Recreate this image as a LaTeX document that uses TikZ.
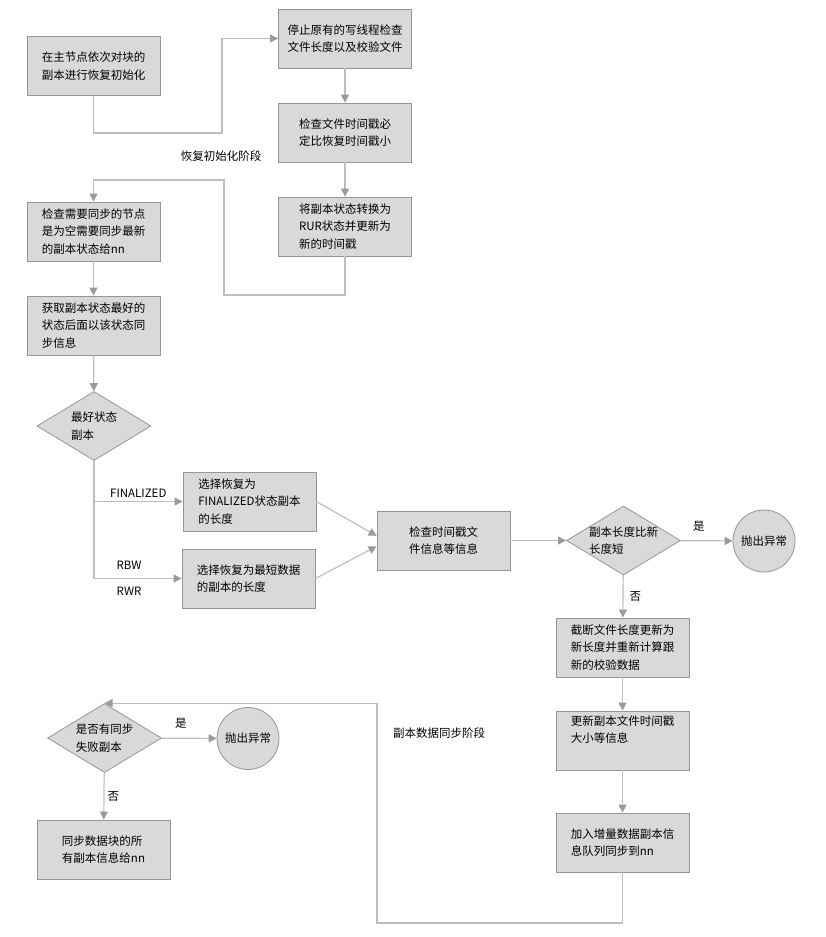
\documentclass[tikz,border=0pt]{standalone}
\usepackage{fontspec}
\setmainfont{Noto Sans CJK SC}
\usepackage{xcolor}
\usepackage{tikz}
\usetikzlibrary{shapes, arrows.meta, positioning}
\definecolor{boxfill}{RGB}{217,217,217}
\definecolor{boxline}{RGB}{150,150,150}
\definecolor{linkline}{RGB}{190,190,190}
\definecolor{tipfill}{RGB}{155,155,155}

\begin{document}
\begin{tikzpicture}
  [
    x=1pt, y=-1pt,
    font=\fontsize{11.5}{17.3}\selectfont,
    Box/.style={rectangle, draw=boxline, fill=boxfill, line width=0.8pt, minimum width=133pt, minimum height=59pt, align=left, inner sep=2pt},
    Decision/.style={diamond, draw=boxline, fill=boxfill, line width=0.8pt, shape aspect=1.65, minimum width=114pt, minimum height=69pt, align=left, inner sep=-3pt},
    Ending/.style={circle, draw=boxline, fill=boxfill, line width=0.8pt, minimum size=62pt, inner sep=0pt},
    Link/.style={draw=linkline, line width=1.2pt, -{Triangle[length=8pt, width=8pt, fill=tipfill, color=tipfill]}},
    Tag/.style={inner sep=0pt}
  ]
  \useasboundingbox (0,0) rectangle (826,937);
  % Nodes
  \node[Box] (init) at (93.5, 66) {在主节点依次对块的\\副本进行恢复初始化};
  \node[Box] (stop) at (345, 38.5) {停止原有的写线程检查\\文件长度以及校验文件};
  \node[Box] (stamp) at (345, 132.5) {检查文件时间戳必\\定比恢复时间戳小};
  \node[Box] (rur) at (345, 226.5) {将副本状态转换为\\RUR状态并更新为\\新的时间戳};
  \node[Tag] (phase1) at (221, 156) {恢复初始化阶段};
  \node[Box] (check) at (93.5, 231.5) {检查需要同步的节点\\是为空需要同步最新\\的副本状态给nn};
  \node[Box] (best) at (93.5, 325.5) {获取副本状态最好的\\状态后面以该状态同\\步信息};
  \node[Decision] (state) at (94, 426) {最好状态\\副本};
  \node[Box] (fin) at (249.5, 501.5) {选择恢复为\\FINALIZED状态副本\\的长度};
  \node[Box] (short) at (248.5, 578.5) {选择恢复为最短数据\\的副本的长度};
  \node[Box] (info) at (443.5, 540.5) {检查时间戳文\\件信息等信息};
  \node[Decision] (len) at (623.5, 540.5) {副本长度比新\\长度短};
  \node[Ending] (err1) at (764, 541) {抛出异常};
  \node[Box] (trunc) at (622.5, 647.5) {截断文件长度更新为\\新长度并重新计算跟\\新的校验数据};
  \node[Box] (upd) at (622.5, 740.5) {更新副本文件时间戳\\大小等信息\\\strut};
  \node[Box] (queue) at (622.5, 842.5) {加入增量数据副本信\\息队列同步到nn};
  \node[Tag] (phase2) at (439, 733) {副本数据同步阶段};
  \node[Decision] (fail) at (104.5, 738) {是否有同步\\失败副本};
  \node[Ending] (err2) at (248, 738.5) {抛出异常};
  \node[Box] (report) at (103.5, 849.5) {同步数据块的所\\有副本信息给nn};
  % Lines
  \path [Link] (init.south) |- (222, 133) |- (stop.west);
  \path [Link] (stop) -- (stamp);
  \path [Link] (stamp) -- (rur);
  \path [Link] (rur.south) |- (224, 295) -- (224, 180) -| (check.north);
  \path [Link] (check) -- (best);
  \path [Link] (best) -- (state);
  \path [Link] (state.south) |- node[Tag, pos=0.75, above=3pt] {FINALIZED} (fin.west);
  \path [Link] (state.south) |- node[Tag, pos=0.7, above=8pt] {RBW} node[Tag, pos=0.7, below=8pt] {RWR} (short.west);
  \path [Link] (fin.east) -- (info.176);
  \path [Link] (short.east) -- (info.185);
  \path [Link] (info) -- (len);
  \path [Link] (len) -- node[Tag, pos=0.35, above=9pt] {是} (err1);
  \path [Link] (len) -- node[Tag, right=6pt] {否} (trunc);
  \path [Link] (trunc) -- (upd);
  \path [Link] (upd) -- (queue);
  \path [Link] (queue.south) |- (377, 923) |- (fail.north);
  \path [Link] (fail) -- node[Tag, pos=0.35, above=9pt] {是} (err2);
  \path [Link] (fail) -- node[Tag, right=3pt] {否} (report);
\end{tikzpicture}
\end{document}
